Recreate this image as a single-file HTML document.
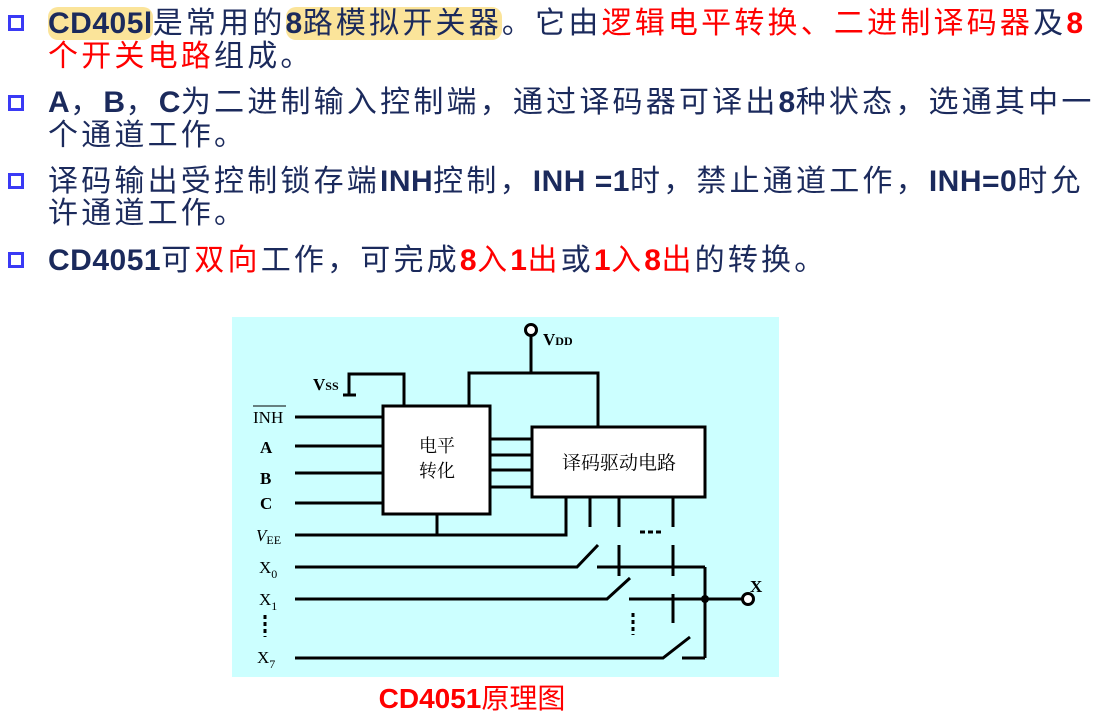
<!DOCTYPE html>
<html><head><meta charset="utf-8"><style>
body{margin:0;width:1100px;height:711px;background:#fff;position:relative;overflow:hidden;font-family:"Liberation Sans","Noto Sans CJK SC",sans-serif;}
.l{position:absolute;left:48px;white-space:nowrap;font-size:30px;line-height:34px;color:#1b2a5c;letter-spacing:3.2px;}
.b{font-weight:bold;letter-spacing:0.5px}
.r{color:#ff0000}
.hl{background:#fbe49a;border-radius:10px}
.sq{position:absolute;left:8px;width:10px;height:10px;border:3px solid #3a3af5;}
svg{position:absolute;left:0;top:0}
</style></head><body>
<div class="sq" style="top:15px"></div>
<div class="sq" style="top:95px"></div>
<div class="sq" style="top:173px"></div>
<div class="sq" style="top:252px"></div>
<div class="l" style="top:7px"><span class="hl"><span class="b">CD405l</span></span>是常用的<span class="hl"><span class="b">8</span>路模拟开关器</span>。它由<span class="r">逻辑电平转换、二进制译码器</span>及<span class="b r">8</span></div>
<div class="l" style="top:40px"><span class="r">个开关电路</span>组成。</div>
<div class="l" style="top:86px"><span class="b">A</span>，<span class="b">B</span>，<span class="b">C</span>为二进制输入控制端，通过译码器可译出<span class="b">8</span>种状态，选通其中一</div>
<div class="l" style="top:119px">个通道工作。</div>
<div class="l" style="top:165px">译码输出受控制锁存端<span class="b">INH</span>控制，<span class="b">INH =1</span>时，禁止通道工作，<span class="b">INH=0</span>时允</div>
<div class="l" style="top:197px">许通道工作。</div>
<div class="l" style="top:244px"><span class="b">CD4051</span>可<span class="r">双向</span>工作，可完成<span class="b r">8</span><span class="r">入</span><span class="b r">1</span><span class="r">出</span>或<span class="b r">1</span><span class="r">入</span><span class="b r">8</span><span class="r">出</span>的转换。</div>

<svg width="1100" height="711" viewBox="0 0 1100 711">
<rect x="232" y="317" width="547" height="360" fill="#ccffff"/>
<g stroke="#000" stroke-width="3" fill="none">
<circle cx="531" cy="330" r="5.5" fill="#fff"/>
<line x1="531" y1="336" x2="531" y2="373"/>
<polyline points="469,406 469,373 598,373 598,427"/>
<polyline points="349,395 349,374 404,374 404,406"/>
<line x1="343" y1="395" x2="356" y2="395"/>
<rect x="383" y="406" width="107" height="108" fill="#fff"/>
<rect x="532" y="427" width="173" height="70" fill="#fff"/>
<line x1="295" y1="417" x2="383" y2="417"/>
<line x1="295" y1="446" x2="383" y2="446"/>
<line x1="295" y1="473" x2="383" y2="473"/>
<line x1="295" y1="503" x2="383" y2="503"/>
<line x1="490" y1="439" x2="532" y2="439"/>
<line x1="490" y1="455" x2="532" y2="455"/>
<line x1="490" y1="470" x2="532" y2="470"/>
<line x1="490" y1="487" x2="532" y2="487"/>
<polyline points="295,535 566,535 566,497"/>
<line x1="437" y1="514" x2="437" y2="535"/>
<line x1="590" y1="497" x2="590" y2="527"/>
<line x1="619" y1="497" x2="619" y2="527"/>
<line x1="673" y1="497" x2="673" y2="527"/>
<line x1="640" y1="532" x2="663" y2="532" stroke-dasharray="5,3"/>
<polyline points="295,567 577,567 598,545"/>
<line x1="597" y1="567" x2="705" y2="567"/>
<line x1="619" y1="545" x2="619" y2="576"/>
<line x1="673" y1="545" x2="673" y2="576"/>
<polyline points="295,599 607,599 630,578"/>
<line x1="629" y1="599" x2="742" y2="599"/>
<line x1="673" y1="594" x2="673" y2="623"/>
<polyline points="295,658 663,658 690,637"/>
<line x1="682" y1="658" x2="705" y2="658"/>
<line x1="705" y1="567" x2="705" y2="658"/>
<circle cx="748" cy="599" r="5.5" fill="#fff"/>
<line x1="265" y1="615" x2="265" y2="637" stroke-dasharray="4,3"/>
<line x1="633" y1="613" x2="633" y2="635" stroke-dasharray="4,3"/>
</g>
<circle cx="705" cy="599" r="4" fill="#000"/>
<g font-family="Liberation Serif, serif" fill="#000">
<text x="543" y="345" font-size="17" font-weight="bold">V<tspan font-size="12">DD</tspan></text>
<text x="313" y="390" font-size="17" font-weight="bold">V<tspan font-size="12">SS</tspan></text>
<text x="253" y="423" font-size="17">INH</text>
<line x1="253" y1="406" x2="286" y2="406" stroke="#000" stroke-width="1"/>
<text x="260" y="453" font-size="17" font-weight="bold">A</text>
<text x="260" y="484" font-size="17" font-weight="bold">B</text>
<text x="260" y="509" font-size="17" font-weight="bold">C</text>
<text x="256" y="541" font-size="17" font-style="italic">V<tspan font-size="12" font-style="normal" dy="3">EE</tspan></text>
<text x="259" y="573" font-size="17">X<tspan font-size="12" dy="5">0</tspan></text>
<text x="259" y="605" font-size="17">X<tspan font-size="12" dy="5">1</tspan></text>
<text x="257" y="663" font-size="17">X<tspan font-size="12" dy="5">7</tspan></text>
<text x="750" y="592" font-size="17" font-weight="bold">X</text>
</g>
<g font-family="Noto Serif CJK SC, serif" font-size="18" fill="#000" text-anchor="middle">
<text x="437" y="452">电平</text>
<text x="437" y="477">转化</text>
<text x="619" y="469" font-size="19">译码驱动电路</text>
</g>
<text x="472" y="708" text-anchor="middle" font-family="Liberation Sans, Noto Sans CJK SC, sans-serif" font-size="28" fill="#ff0000"><tspan font-weight="bold">CD4051</tspan>原理图</text>
</svg>
</body></html>
